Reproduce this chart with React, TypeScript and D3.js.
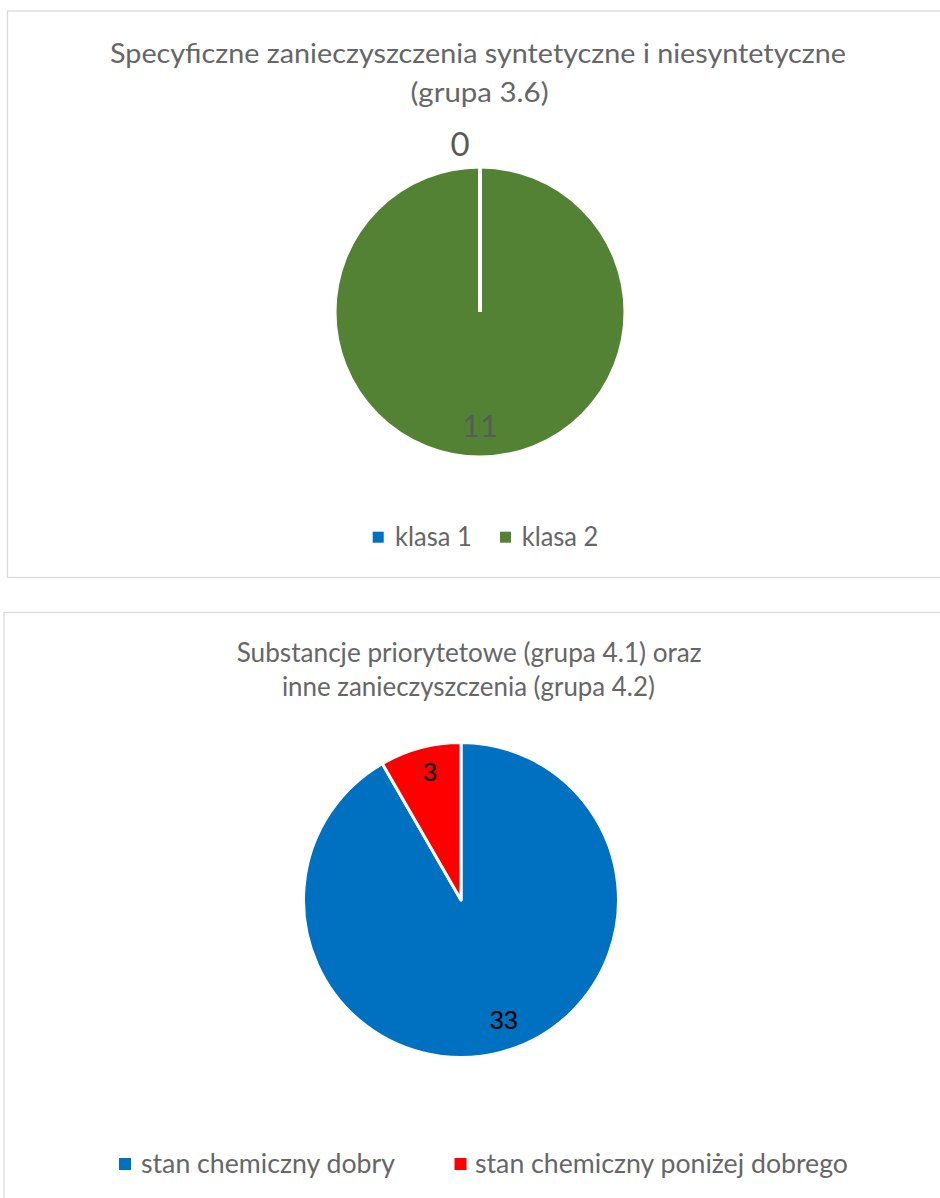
import React from "react";
import * as d3 from "d3";

// ---- data ----
const topTitle = ["Specyficzne zanieczyszczenia syntetyczne i niesyntetyczne", "(grupa 3.6)"];
const topCategories = ["klasa 1", "klasa 2"];
const topValues = [0, 11];
const topColors = ["#0070C0", "#548235"];

const bottomTitle = ["Substancje priorytetowe (grupa 4.1) oraz", "inne zanieczyszczenia (grupa 4.2)"];
const bottomCategories = ["stan chemiczny dobry", "stan chemiczny poniżej dobrego"];
const bottomValues = [33, 3];
const bottomColors = ["#0070C0", "#FF0000"];

const TEXT = "#666666";
const FONT = "Lato, 'Open Sans', sans-serif";

const pie = d3.pie<number>().sort(null).value((d) => d);

export default function App() {
  // ---------- top chart ----------
  const tCx = 480, tCy = 312, tSw = 4;
  const tR = 143.5 + tSw / 2;
  const tArcs = pie(topValues);
  const tArc = d3.arc<d3.PieArcDatum<number>>().innerRadius(0).outerRadius(tR);
  const tInLabel = d3.arc<d3.PieArcDatum<number>>().innerRadius(114).outerRadius(114);
  const tOutLabel = d3.arc<d3.PieArcDatum<number>>().innerRadius(tR + 22).outerRadius(tR + 22);

  // ---------- bottom chart ----------
  const bCx = 461, bCy = 900, bSw = 3;
  const bR = 156 + bSw / 2;
  const bArcs = pie(bottomValues);
  const bArc = d3.arc<d3.PieArcDatum<number>>().innerRadius(0).outerRadius(bR);
  const bLabel = d3.arc<d3.PieArcDatum<number>>().innerRadius(127).outerRadius(127);
  const bLabelSmall = d3.arc<d3.PieArcDatum<number>>().innerRadius(131).outerRadius(131);

  const topLegend = [
    { x: 372.7, tx: 395, tl: 76.7 },
    { x: 500, tx: 521.7, tl: 76.6 },
  ];
  const bottomLegend = [
    { x: 119, tx: 141, tl: 254 },
    { x: 454.5, tx: 475, tl: 373 },
  ];

  return (
    <svg
      width={940}
      height={1198}
      style={{ position: "absolute", left: 0, top: 0, background: "#fff" }}
      fontFamily={FONT}
    >
      {/* panels */}
      <rect x={7.5} y={11} width={960} height={566.5} fill="#fff" stroke="#d9d9d9" strokeWidth={1.3} />
      <rect x={4} y={612.5} width={960} height={700} fill="#fff" stroke="#d9d9d9" strokeWidth={1.3} />

      {/* top title */}
      <text x={478} y={63} textAnchor="middle" fontSize={27} fill={TEXT} textLength={736} lengthAdjust="spacingAndGlyphs">
        {topTitle[0]}
      </text>
      <text x={479.5} y={102} textAnchor="middle" fontSize={27} fill={TEXT} textLength={138} lengthAdjust="spacingAndGlyphs">
        {topTitle[1]}
      </text>

      {/* top pie */}
      <g transform={`translate(${tCx},${tCy})`}>
        {tArcs
          .map((a, i) => ({ a, i }))
          .sort((p, q) => q.a.value - p.a.value)
          .map(({ a, i }) => (
            <path key={i} d={tArc(a) || ""} fill={topColors[i]} stroke="#fff" strokeWidth={tSw} strokeLinejoin="miter" />
          ))}
        {tArcs.map((a, i) => {
          const outside = a.value === 0;
          const [x, y] = outside ? tOutLabel.centroid(a) : tInLabel.centroid(a);
          return (
            <text
              key={"l" + i}
              x={outside ? x - 20 : x}
              y={y}
              dy="0.36em"
              textAnchor="middle"
              fontSize={outside ? 33 : 31}
              fill={outside ? "#595959" : "#5a5a5a"}
            >
              {topValues[i]}
            </text>
          );
        })}
      </g>

      {/* top legend */}
      {topCategories.map((c, i) => (
        <g key={c}>
          <rect x={topLegend[i].x} y={531.7} width={11} height={11} fill={topColors[i]} />
          <text x={topLegend[i].tx} y={546} fontSize={27} fill={TEXT} textLength={topLegend[i].tl} lengthAdjust="spacingAndGlyphs">
            {c}
          </text>
        </g>
      ))}

      {/* bottom title */}
      <text x={469.2} y={662} textAnchor="middle" fontSize={26} fill={TEXT} textLength={465} lengthAdjust="spacingAndGlyphs">
        {bottomTitle[0]}
      </text>
      <text x={468.4} y={696} textAnchor="middle" fontSize={26} fill={TEXT} textLength={373} lengthAdjust="spacingAndGlyphs">
        {bottomTitle[1]}
      </text>

      {/* bottom pie */}
      <g transform={`translate(${bCx},${bCy})`}>
        {bArcs.map((a, i) => (
          <path key={i} d={bArc(a) || ""} fill={bottomColors[i]} stroke="#fff" strokeWidth={bSw} strokeLinejoin="round" />
        ))}
        {bArcs.map((a, i) => {
          const small = a.endAngle - a.startAngle < Math.PI / 2;
          const [x, y] = small ? bLabelSmall.centroid(a) : bLabel.centroid(a);
          return (
            <text
              key={"l" + i}
              x={small ? x + 3 : x + 10}
              y={small ? y - 2 : y - 3}
              dy="0.36em"
              textAnchor="middle"
              fontSize={25.5}
              fontFamily="'Liberation Sans', Arial, sans-serif"
              fill="#000"
            >
              {bottomValues[i]}
            </text>
          );
        })}
      </g>

      {/* bottom legend */}
      {bottomCategories.map((c, i) => (
        <g key={c}>
          <rect x={bottomLegend[i].x} y={1158} width={12} height={12} fill={bottomColors[i]} />
          <text x={bottomLegend[i].tx} y={1173} fontSize={26} fill={TEXT} textLength={bottomLegend[i].tl} lengthAdjust="spacingAndGlyphs">
            {c}
          </text>
        </g>
      ))}
    </svg>
  );
}
